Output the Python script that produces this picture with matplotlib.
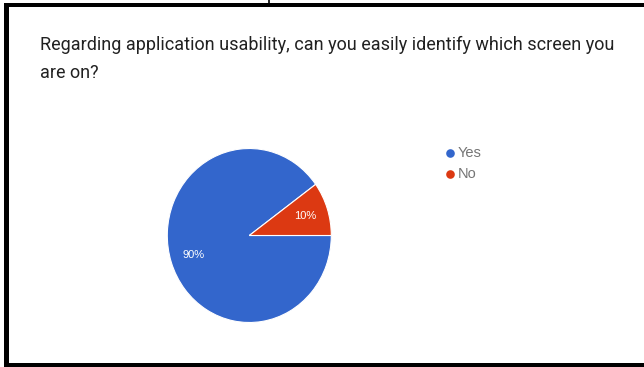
import matplotlib.pyplot as plt
from matplotlib.patches import Rectangle
from matplotlib.lines import Line2D

# survey answers
answers = ['Yes', 'No']
shares = [90, 10]
colors = ['#3366cc', '#dc3912']
title_lines = ['Regarding application usability, can you easily identify which screen you',
               'are on?']

W, H = 644, 367
fig = plt.figure(figsize=(W / 100, H / 100), dpi=100)
fig.patch.set_facecolor('white')

def px(x, y):
    # pixel position from top-left -> figure fraction
    return x / W, 1 - y / H

# pie, slightly taller than wide
cx, cy, rx, ry = 249.3, 235.5, 82, 87
ax = fig.add_axes([(cx - rx) / W, 1 - (cy + ry) / H, 2 * rx / W, 2 * ry / H])
wedges, texts, autotexts = ax.pie(
    shares, colors=colors, startangle=36, counterclock=True,
    autopct='%d%%', pctdistance=0.72,
    wedgeprops=dict(edgecolor='white', linewidth=0.8),
    textprops=dict(color='white', fontsize=8, family='Liberation Sans'))
ax.set_aspect('auto')
ax.set_xlim(-1, 1)
ax.set_ylim(-1, 1)
ax.axis('off')

# title, two lines
for i, line in enumerate(title_lines):
    x, y = px(39.5, 50.5 + 28 * i)
    fig.text(x, y, line, fontsize=13, family='Roboto', color='#212121', va='baseline', ha='left')

# legend
for i, (name, c) in enumerate(zip(answers, colors)):
    x, y = px(450, 153.3 + 21 * i)
    fig.add_artist(Line2D([x], [y], marker='o', markersize=6.2, color=c, markeredgewidth=0,
                          transform=fig.transFigure))
    tx, _ = px(457.5, 0)
    fig.text(tx, y, name, fontsize=10.5, family='Liberation Sans', color='#757575', va='center', ha='left')

# black frame around the screenshot
black = dict(facecolor='black', edgecolor='none', transform=fig.transFigure)
fig.add_artist(Rectangle(px(4, 7), 1, 4 / H, **black))
fig.add_artist(Rectangle(px(4, 367), 5 / W, 364 / H, **black))
fig.add_artist(Rectangle(px(4, 367), 1, 4.5 / H, **black))
fig.add_artist(Line2D([269 / W, 269 / W], [1 - 3 / H, 1], color='black', lw=1.2, transform=fig.transFigure))

fig.savefig('out.png', dpi=100)
